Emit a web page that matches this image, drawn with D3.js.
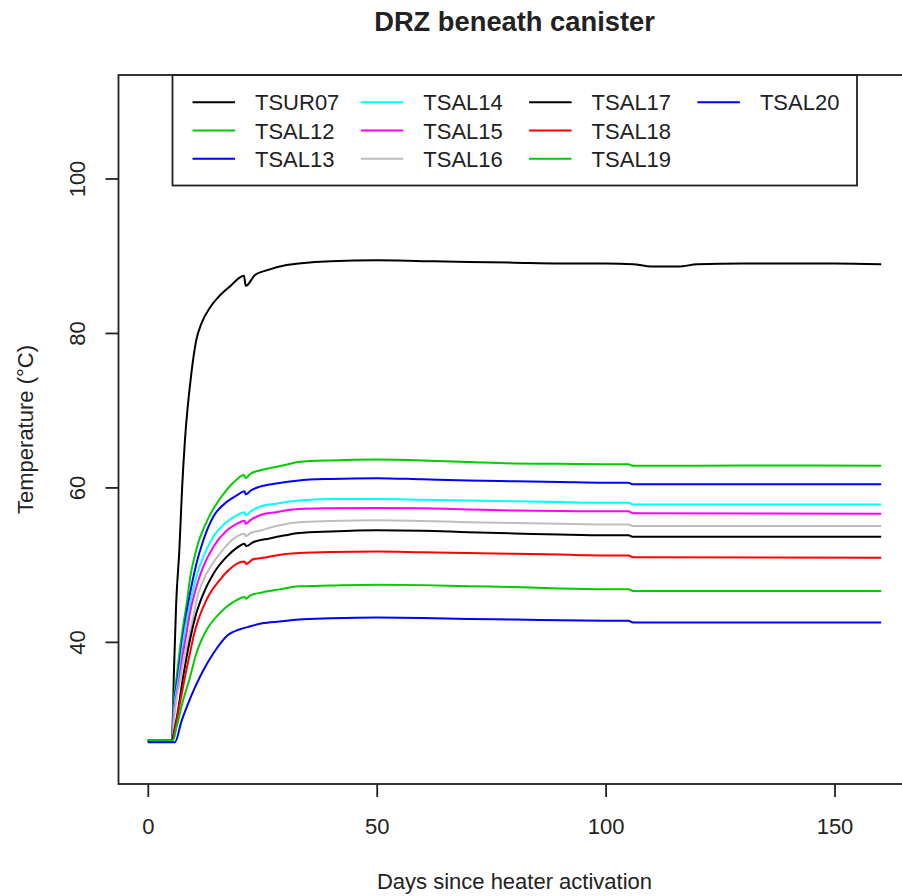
<!DOCTYPE html>
<html lang="en">
<head>
  <meta charset="UTF-8">
  <title>DRZ beneath canister</title>
  <style>
    body {
      margin: 0;
      background: #fff;
      font-family: "Liberation Sans", Arial, sans-serif;
    }
    svg text {
      fill: #222;
    }
    .title {
      font-size: 27.3px;
      font-weight: bold;
      text-anchor: middle;
    }
    .axis text {
      font-size: 22px;
      font-family: "Liberation Sans", Arial, sans-serif;
    }
    .axis line {
      stroke: #222;
      stroke-width: 1.8;
    }
    .axis_legend {
      font-size: 22px;
      text-anchor: middle;
    }
    .frame {
      fill: none;
      stroke: #222;
      stroke-width: 1.8;
    }
    .series {
      fill: none;
      stroke-width: 2;
      stroke-linejoin: round;
    }
    .legend text {
      font-size: 22px;
    }
  </style>
  <script src="https://cdn.jsdelivr.net/npm/d3@7"></script>
</head>
<body>
  <div id="chart"></div>
  <script>
/* global d3 */

// [days since heater activation, temperature °C]
var TSUR07 = [[0,27.2],[5.3,27.2],[5.7,36],[6.2,45],[6.9,52],[7.5,60],[8.1,66],[9.5,74.7],[10.6,79.1],
  [11.7,81.2],[13.7,83.4],[15.5,84.7],[17.9,86.0],[21.0,87.4],[21.4,86.1],[23.4,87.5],[25.9,88.1],
  [30.3,88.8],[33,89.0],[40,89.3],[50,89.4],[60,89.3],[70,89.2],[80,89.1],[90,89.0],[100,89.0],
  [106,88.9],[110,88.6],[116,88.6],[120,88.9],[130,89.0],[140,89.0],[150,89.0],[160.2,88.9]];
var TSAL12 = [[0,27.2],[5.3,27.2],[5.5,31],[6.3,35.4],[7.0,39],[7.7,42],[8.5,45],[9.3,48.5],[10.2,51.0],
  [11,52.8],[12,54.4],[13.2,56],[14.6,57.5],[17.1,59.6],[19,60.8],[21,61.6],[21.4,61.2],[22.5,61.8],
  [24.5,62.2],[26.6,62.5],[30,62.9],[33,63.3],[40,63.5],[50,63.6],[60,63.5],[70,63.3],[80,63.1],
  [90,63.05],[100,63.0],[105,63.0],[106,62.8],[120,62.8],[140,62.85],[160.2,62.8]];
var TSAL13 = [[0,27.1],[5.3,27.1],[5.6,31],[6.5,35.2],[7.3,39],[8.0,41.9],[9.2,46.2],[10.6,50.1],
  [12.1,53.1],[14.3,56.2],[17.2,58.1],[19.5,59.0],[21.1,59.5],[21.4,59.1],[22.5,59.6],[24.5,60.1],
  [28,60.5],[33,60.9],[40,61.1],[50,61.2],[60,61.05],[70,60.9],[80,60.8],[90,60.7],[100,60.6],
  [105,60.6],[106,60.4],[160.2,60.4]];
var TSAL14 = [[0,27.2],[5.3,27.2],[5.7,31],[6.7,35.3],[7.4,38.5],[8.0,41.1],[9.2,44.9],[10.6,48.4],
  [12.1,51.0],[14.3,53.6],[17.2,55.5],[19.5,56.4],[21.1,56.8],[21.4,56.4],[22.5,56.9],[24.5,57.5],
  [28,57.9],[33,58.3],[40,58.5],[50,58.5],[60,58.4],[70,58.3],[80,58.2],[90,58.1],[100,58.0],
  [105,58.0],[106,57.8],[160.2,57.8]];
var TSAL15 = [[0,27.2],[5.3,27.2],[5.8,31],[6.9,35.2],[7.6,38.2],[8.3,40.6],[9.2,43.7],[10.6,47.1],
  [12.1,49.7],[14.3,52.3],[17.2,54.4],[19.5,55.3],[21.1,55.7],[21.4,55.3],[22.5,55.8],[24.5,56.4],
  [28,56.8],[33,57.2],[40,57.3],[50,57.35],[60,57.3],[70,57.15],[80,57.0],[90,56.95],[100,56.9],
  [105,56.9],[106,56.65],[160.2,56.6]];
var TSAL16 = [[0,27.2],[5.3,27.2],[5.9,31],[7.1,35.2],[8.0,38.3],[8.8,40.2],[9.9,43.2],[11.0,46.2],
  [12.8,48.8],[15.7,51.4],[19.3,53.6],[21.1,54.0],[21.4,53.7],[22.5,54.1],[24.5,54.4],[28,55.0],
  [33,55.5],[40,55.65],[50,55.75],[60,55.65],[70,55.5],[80,55.4],[90,55.3],[100,55.2],[105,55.2],
  [106,55.0],[160.2,55.0]];
var TSAL17 = [[0,27.2],[5.3,27.2],[5.5,27.7],[6.6,31.1],[7.7,35.4],[8.4,37.8],[9.3,40.5],[10.6,43.7],
  [12.1,46.2],[14.3,48.8],[17.2,51.0],[19.5,52.2],[21.1,52.7],[21.5,52.4],[23,52.9],[26.6,53.4],
  [30,53.8],[33,54.1],[40,54.3],[50,54.45],[60,54.4],[70,54.2],[80,54.05],[90,53.9],[100,53.8],
  [105,53.8],[106,53.6],[160.2,53.6]];
var TSAL18 = [[0,27.2],[5.4,27.2],[5.9,28.5],[7.0,32.0],[8.1,35.4],[9.2,38.5],[10.1,41.0],[11.0,42.8],
  [12.8,45.4],[13.5,46.2],[15.7,48.0],[17.5,49.2],[19.4,50.1],[21.1,50.4],[21.5,50.1],[23,50.7],
  [25.2,50.9],[28,51.2],[33,51.5],[40,51.65],[50,51.7],[60,51.6],[70,51.5],[80,51.4],[90,51.3],
  [100,51.2],[105,51.2],[106,50.95],[160.2,50.9]];
var TSAL19 = [[0,27.2],[5.5,27.2],[6.3,29.0],[7.7,32.4],[9.2,35.4],[10.6,38.5],[12.8,41.5],[15.7,43.7],
  [19.4,45.4],[21.1,45.8],[21.5,45.6],[22.3,46.0],[25,46.4],[28.8,46.8],[33,47.2],[40,47.3],[50,47.4],
  [60,47.35],[70,47.2],[80,47.1],[90,46.9],[100,46.8],[105,46.8],[106,46.6],[160.2,46.6]];
var TSAL20 = [[0,27.0],[5.9,27.0],[7.4,29.8],[8.8,32.0],[10.3,34.1],[12.1,36.3],[14.3,38.5],[17.5,40.9],
  [20,41.6],[22.3,42.0],[25,42.4],[28.8,42.65],[33,42.9],[40,43.05],[50,43.15],[60,43.1],[70,42.95],
  [80,42.9],[90,42.8],[100,42.75],[105,42.75],[106,42.5],[160.2,42.5]];

var seriesNames = ["TSUR07", "TSAL12", "TSAL13", "TSAL14", "TSAL15",
  "TSAL16", "TSAL17", "TSAL18", "TSAL19", "TSAL20"];
var seriesData = [TSUR07, TSAL12, TSAL13, TSAL14, TSAL15,
  TSAL16, TSAL17, TSAL18, TSAL19, TSAL20];
var seriesColors = ["#000000", "#00cd00", "#0000ff", "#00ffff", "#ff00ff",
  "#bebebe", "#000000", "#ff0000", "#00cd00", "#0000ff"];

var xTicks = [0, 50, 100, 150];
var yTicks = [40, 60, 80, 100];

var width = 902,
  height = 896,
  margin = {top: 75, right: -8.5, bottom: 112, left: 118.5};

var svg = d3.select("#chart")
  .append("svg")
  .attr("width", width)
  .attr("height", height);

// R pads the data range by 4% on each side
var x = d3.scaleLinear()
  .domain([-6.4, 166.6])
  .range([margin.left, width - margin.right]);
var y = d3.scaleLinear()
  .domain([21.6, 113.4])
  .range([height - margin.bottom, margin.top]);

var line = d3.line()
  .curve(d3.curveMonotoneX)
  .x(function (d) { return x(d[0]); })
  .y(function (d) { return y(d[1]); });

svg.append("g")
  .attr("class", "lines")
  .selectAll("path")
  .data(seriesData)
  .enter()
  .append("path")
  .attr("class", "series")
  .attr("stroke", function (d, i) { return seriesColors[i]; })
  .attr("d", line);

// x axis
var gx = svg.append("g")
  .attr("class", "axis axis--x")
  .attr("transform", "translate(0," + y.range()[0] + ")")
  .call(d3.axisBottom(x)
    .tickValues(xTicks)
    .tickSize(13)
    .tickPadding(21));
gx.select(".domain").remove();

// y axis, labels turned like in R
var gy = svg.append("g")
  .attr("class", "axis axis--y")
  .attr("transform", "translate(" + x.range()[0] + ",0)")
  .call(d3.axisLeft(y)
    .tickValues(yTicks)
    .tickSize(13));
gy.select(".domain").remove();
gy.selectAll(".tick text")
  .attr("x", null)
  .attr("dy", null)
  .attr("text-anchor", "middle")
  .attr("transform", "translate(-34,0) rotate(-90)");

svg.append("rect")
  .attr("class", "frame")
  .attr("x", x.range()[0])
  .attr("y", y.range()[1])
  .attr("width", x.range()[1] - x.range()[0])
  .attr("height", y.range()[0] - y.range()[1]);

svg.append("text")
  .attr("class", "title")
  .attr("x", (x.range()[0] + x.range()[1]) / 2)
  .attr("y", 31)
  .text("DRZ beneath canister");

svg.append("text")
  .attr("class", "axis_legend")
  .attr("x", (x.range()[0] + x.range()[1]) / 2)
  .attr("y", 889)
  .text("Days since heater activation");

svg.append("text")
  .attr("class", "axis_legend")
  .attr("transform", "translate(33," + (y.range()[0] + y.range()[1]) / 2 + ") rotate(-90)")
  .text("Temperature (°C)");

// legend, filled column by column
var legendBox = {x: 172.5, y: 75, w: 684.5, h: 110.5};
var legend = svg.append("g")
  .attr("class", "legend");

legend.append("rect")
  .attr("class", "frame")
  .attr("fill", "#fff")
  .attr("x", legendBox.x)
  .attr("y", legendBox.y)
  .attr("width", legendBox.w)
  .attr("height", legendBox.h);

var items = legend.selectAll(".item")
  .data(seriesNames)
  .enter()
  .append("g")
  .attr("class", "item")
  .attr("transform", function (d, i) {
    var col = Math.floor(i / 3), row = i % 3;
    return "translate(" + (192.5 + col * 168.3) + "," + (102.3 + row * 28.2) + ")";
  });

items.append("line")
  .attr("x1", 0)
  .attr("x2", 42.5)
  .attr("stroke-width", 2)
  .attr("stroke", function (d, i) { return seriesColors[i]; });

items.append("text")
  .attr("x", 62.5)
  .attr("y", 8)
  .text(function (d) { return d; });

  </script>
</body>
</html>
